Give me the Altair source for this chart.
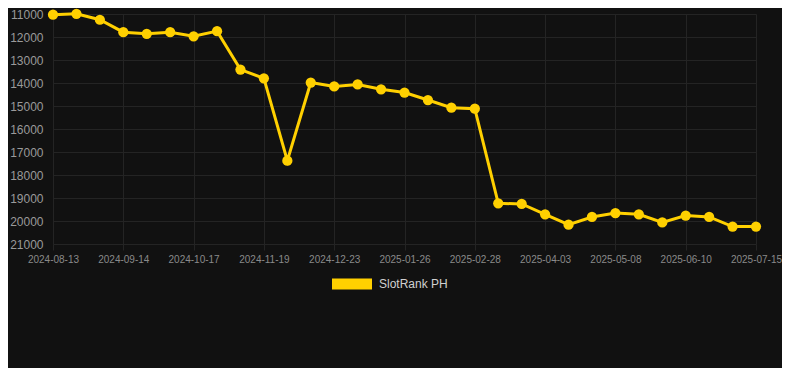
import altair as alt
import pandas as pd

dates = [
    "2024-08-13", "2024-08-24", "2024-09-03", "2024-09-14", "2024-09-25", "2024-10-06",
    "2024-10-17", "2024-10-28", "2024-11-08", "2024-11-19", "2024-11-30", "2024-12-11",
    "2024-12-23", "2025-01-03", "2025-01-14", "2025-01-26", "2025-02-06", "2025-02-17",
    "2025-02-28", "2025-03-11", "2025-03-22", "2025-04-03", "2025-04-15", "2025-04-26",
    "2025-05-08", "2025-05-19", "2025-05-30", "2025-06-10", "2025-06-22", "2025-07-03",
    "2025-07-15",
]
ranks = [
    11030, 10990, 11250, 11790, 11860, 11790, 11970, 11745, 13415, 13795, 17376,
    13980, 14150, 14065, 14275, 14415, 14740, 15075, 15115, 19230, 19260, 19710,
    20160, 19825, 19655, 19710, 20060, 19765, 19825, 20240, 20240,
]
tick_labels = dates[::3]
y_ticks = list(range(11000, 21001, 1000))
series_name = "SlotRank PH"

df = pd.DataFrame({"date": dates, "rank": ranks, "series": [series_name] * len(dates)})

FONT = "Liberation Sans, Arial, Helvetica"
GOLD = "#FFD000"

x_enc = alt.X(
    "date:O",
    sort=None,
    scale=alt.Scale(type="point", range=[0, 703], padding=0),
    axis=alt.Axis(
        values=tick_labels,
        labelAngle=0,
        labelFontSize=10,
        labelColor="#8a8a8a",
        labelFont=FONT,
        labelPadding=4,
        tickSize=6,
        tickColor="#242424",
        domain=False,
        grid=True,
        gridColor="#242424",
        title=None,
    ),
)
y_enc = alt.Y(
    "rank:Q",
    scale=alt.Scale(domain=[11000, 21000], reverse=True, nice=False, zero=False),
    axis=alt.Axis(
        values=y_ticks,
        format="d",
        labelFontSize=12,
        labelColor="#9a9a9a",
        labelFont=FONT,
        labelPadding=10,
        tickSize=0,
        domain=True,
        domainColor="#242424",
        grid=True,
        gridColor="#242424",
        title=None,
    ),
)
color_enc = alt.Color(
    "series:N",
    scale=alt.Scale(domain=[series_name], range=[GOLD]),
    legend=alt.Legend(
        title=None,
        orient="none",
        legendX=279,
        legendY=250,
        symbolType="M-1,-0.275L1,-0.275L1,0.275L-1,0.275Z",
        symbolSize=1600,
        symbolFillColor=GOLD,
        symbolStrokeColor=GOLD,
        symbolStrokeWidth=0,
        labelFontSize=12,
        labelColor="#d0d0d0",
        labelFont=FONT,
        labelOffset=7,
    ),
)

base = alt.Chart(df)
line = base.mark_line(strokeWidth=3, color=GOLD).encode(x=x_enc, y=y_enc, color=color_enc)
pts = base.mark_circle(size=105, opacity=1, color=GOLD).encode(x=x_enc, y=y_enc, color=color_enc)

chart = (
    alt.layer(line, pts)
    .properties(
        width=729,
        height=230,
        autosize=alt.AutoSizeParams(type="none"),
        padding={"left": 45, "top": 6, "right": 0, "bottom": 124},
        background="#111111",
    )
    .configure_view(stroke=None)
)

chart.save("out.html", embed_options={"renderer": "svg", "actions": False})
